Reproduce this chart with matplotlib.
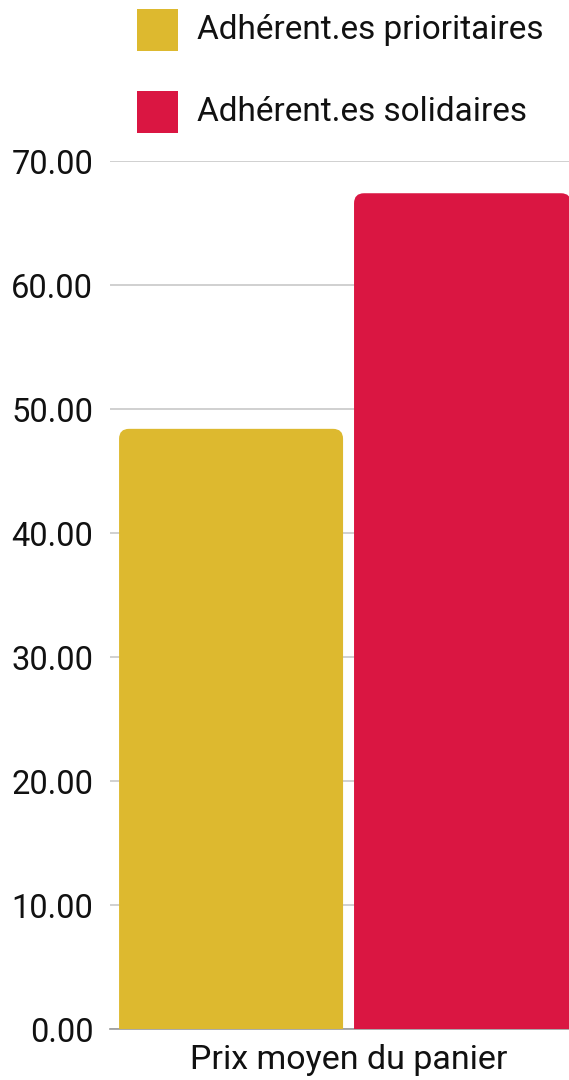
import matplotlib
matplotlib.use("Agg")
import matplotlib.pyplot as plt
import matplotlib.patches as mpatches
from matplotlib.patches import FancyBboxPatch

plt.rcParams["font.family"] = ["Roboto", "DejaVu Sans"]

# --- data ---
category = "Prix moyen du panier"
series = ["Adhérent.es prioritaires", "Adhérent.es solidaires"]
values = [48.4, 67.4]
colors = ["#DDB92F", "#DA1642"]
yticks = [0, 10, 20, 30, 40, 50, 60, 70]

W, H = 569, 1080
fig = plt.figure(figsize=(W / 100, H / 100), dpi=100)

# axes deliberately runs past the right edge, like the source export
ax_left, ax_right = 110, 587
ax_top, ax_bot = 161, 1029
ax = fig.add_axes([ax_left / W, 1 - ax_bot / H,
                   (ax_right - ax_left) / W, (ax_bot - ax_top) / H])
ax.set_xlim(-0.5, 0.5)
ax.set_ylim(0, 70)

# bar placement (red one is cut by the canvas edge in the source)
bar_x0 = [-0.481, 0.0116]
bar_w = [0.4696, 0.455]
x_per_px = 1.0 / (ax_right - ax_left)
y_per_px = 70.0 / (ax_bot - ax_top)
rad_px = 10
for x0, w, v, c in zip(bar_x0, bar_w, values, colors):
    # round box extends below 0 so only top corners show
    p = FancyBboxPatch((x0 + rad_px * x_per_px, -5),
                       w - 2 * rad_px * x_per_px,
                       v + 5 - rad_px * y_per_px,
                       boxstyle=f"round,pad={rad_px * x_per_px}",
                       mutation_aspect=y_per_px / x_per_px,
                       facecolor=c, edgecolor="none", zorder=3)
    ax.add_patch(p)

ax.set_yticks(yticks)
ax.set_yticklabels([f"{t:.2f}" for t in yticks], fontsize=23.5, color="#111111")
ax.yaxis.grid(True, color="#c8c8c8", lw=1.2, zorder=0)
ax.set_axisbelow(True)
ax.tick_params(axis="y", length=0, pad=12)
ax.set_xticks([0])
ax.set_xticklabels([category], fontsize=24.5, color="#111111")
ax.tick_params(axis="x", length=0, pad=11)
for s in ("top", "right", "left"):
    ax.spines[s].set_visible(False)
ax.spines["bottom"].set_color("#999999")
ax.spines["bottom"].set_linewidth(1.2)

# legend drawn by hand at top
for i, (lab, c) in enumerate(zip(series, colors)):
    yc = 30 + i * 82
    fig.patches.append(mpatches.Rectangle(
        (137 / W, 1 - (yc + 20.5) / H), 41 / W, 41 / H,
        transform=fig.transFigure, facecolor=c, edgecolor="none"))
    fig.text(197 / W, 1 - yc / H, lab, ha="left", va="center",
             fontsize=24, color="#111111")

fig.savefig("out.png", dpi=100)
